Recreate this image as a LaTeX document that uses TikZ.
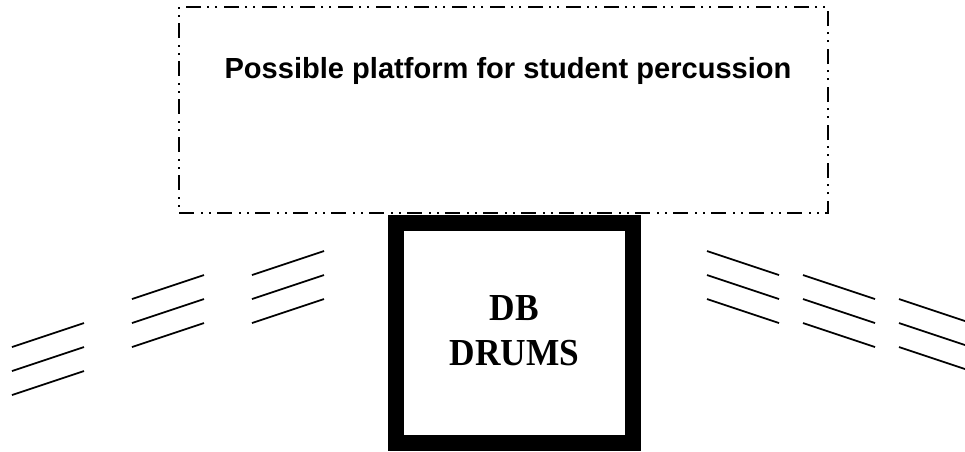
\documentclass[tikz,border=0pt]{standalone}
\usepackage{fontspec}
\setmainfont{Liberation Serif}
\newfontfamily\arialfont{Liberation Sans}
\begin{document}
\begin{tikzpicture}[x=0.75pt,y=-0.75pt,
  platform/.style={draw, line width=1.2pt,
    dash pattern=on 11.25pt off 5.25pt on 1.5pt off 4.5pt on 1.5pt off 4.5pt,
    minimum width=486.75pt, minimum height=154.5pt, inner sep=0pt, outer sep=0pt},
  drumbox/.style={draw, line width=12pt, minimum width=177.75pt, minimum height=165pt,
    inner sep=0pt, outer sep=0pt},
  drumtext/.style={align=center, inner sep=0pt,
    font=\bfseries\fontsize{26.5}{34}\selectfont},
  title/.style={font=\arialfont\bfseries\fontsize{21.8}{26}\selectfont, anchor=base, inner sep=0pt},
  rail/.style={line width=1.3pt}]
\useasboundingbox (0,0) rectangle (965,451);
\clip (0,0) rectangle (965,451);
\node[platform] (plat) at (503.5,110) {};
\node[title] (ttl) at (508,78) {Possible platform for student percussion};
\node[drumbox] (drums) at (514.5,333) {};
\node[drumtext] (drumlbl) at ([yshift=1.5pt]drums.center)
  {\scalebox{1}[1.08]{DB}\\\scalebox{1}[1.08]{DRUMS}};
% left rails (rising to the right)
\foreach \gx/\gy in {12/347, 132/299, 252/275}{
  \foreach \k in {0,1,2}{
    \draw[rail] (\gx,\gy+24*\k) -- ++(72,-24);
  }
}
% right rails (falling to the right)
\foreach \gx/\gy in {707/251, 803/275, 899/299}{
  \foreach \k in {0,1,2}{
    \draw[rail] (\gx,\gy+24*\k) -- ++(72,24);
  }
}
\end{tikzpicture}
\end{document}
